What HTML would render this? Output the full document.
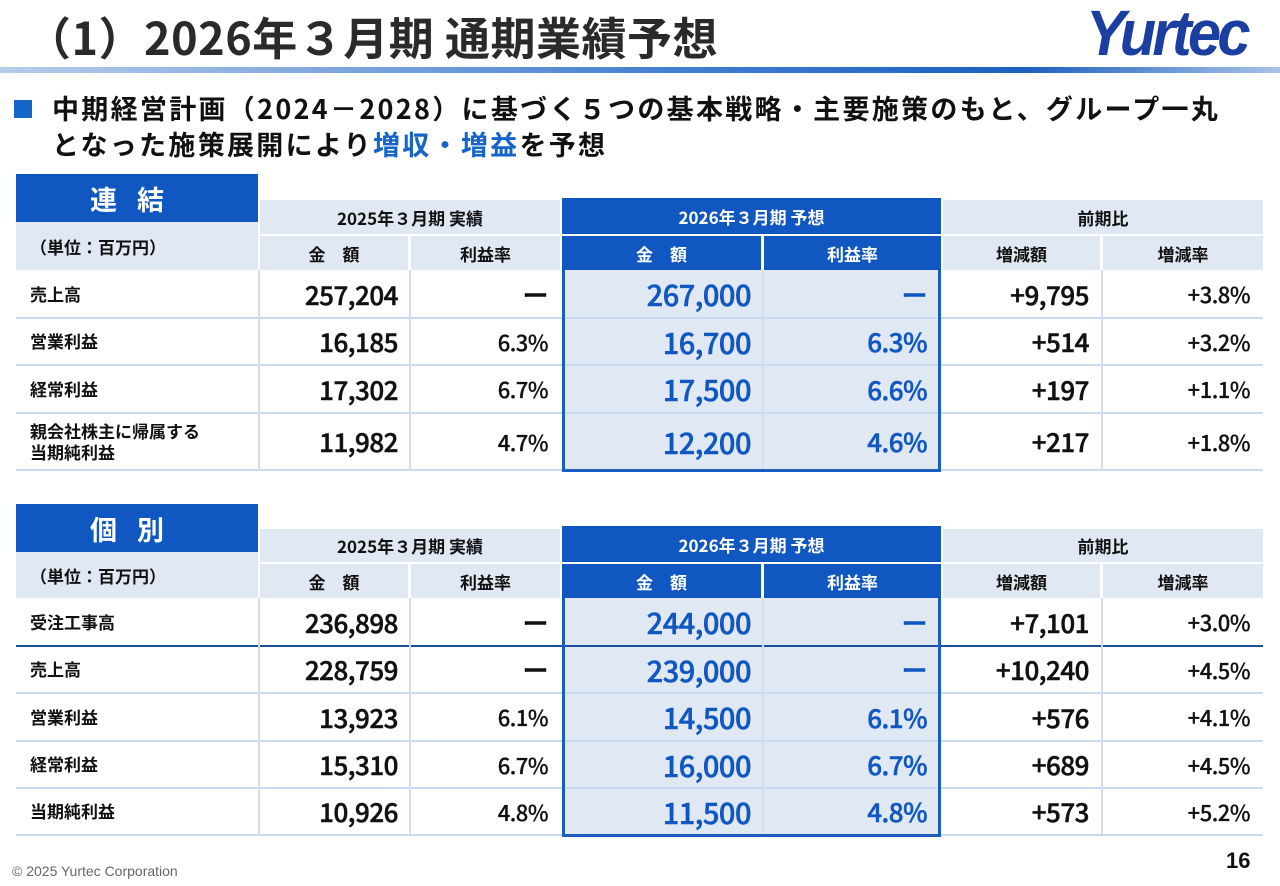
<!DOCTYPE html>
<html><head><meta charset="utf-8"><style>
*{margin:0;padding:0;box-sizing:border-box}
body{width:1280px;height:886px;background:#fff;position:relative;overflow:hidden;font-family:"Liberation Sans","Noto Sans CJK JP",sans-serif;color:#111}
.a{position:absolute}
.jp{font-family:"Noto Sans CJK JP","Liberation Sans",sans-serif}
.c{position:absolute;display:flex;align-items:center;justify-content:center;font-family:"Noto Sans CJK JP",sans-serif;font-weight:bold}
.hl{background:#dfe8f3;color:#111;font-size:17px}
.hb{background:#1157c2;color:#fff;font-size:17px}
.lab{position:absolute;font-family:"Noto Sans CJK JP",sans-serif;font-weight:bold;font-size:17px;display:flex;align-items:center;left:30px;line-height:1.2}
.n{position:absolute;display:flex;align-items:center;justify-content:flex-end;font-family:"Noto Sans CJK JP",sans-serif;font-weight:500;font-size:26px;letter-spacing:-0.5px;-webkit-text-stroke:0.5px currentColor}
.s{font-size:22px;-webkit-text-stroke:0.2px currentColor}
.b{color:#1157c2}
.hline{position:absolute;left:16px;width:1247px;height:2px;background:#c9d9ee}
.vline{position:absolute;width:2px;background:#d2def0}
.fc{position:absolute;left:562px;width:379px;background:#dfe8f3;border:3px solid #1a5dc0;border-top:none}
</style></head><body>
<div class="a jp" style="left:26px;top:3px;font-size:45px;font-weight:bold;color:#2a2a2a;white-space:nowrap;letter-spacing:0.5px">（1）2026年３月期 通期業績予想</div>
<div class="a" style="left:1086px;top:-4px;font-size:64px;font-weight:bold;font-style:italic;color:#1b3fa0;font-family:'Liberation Sans',sans-serif;letter-spacing:-4px;transform:scaleX(0.93);transform-origin:left">Yurtec</div>
<div class="a" style="left:0;top:67px;width:1280px;height:6px;background:linear-gradient(90deg,#b6cde9,#3f7bd0 55%,#1d5fc0 80%,#a8c3e6)"></div>
<div class="a" style="left:14px;top:100px;width:18px;height:18px;background:#1565c9"></div>
<div class="a jp" style="left:52px;top:90px;font-size:27px;font-weight:bold;line-height:36px;white-space:nowrap;letter-spacing:2.3px">中期経営計画（2024－2028）に基づく５つの基本戦略・主要施策のもと、グループ一丸<br>となった施策展開により<span style="color:#1565c9">増収・増益</span>を予想</div>

<!-- TABLE 1 -->
<div class="c hb" style="left:16px;top:174px;width:242px;height:48px;font-size:27px;letter-spacing:20px">連結</div>
<div class="c hl" style="left:16px;top:222px;width:242px;height:48px;justify-content:flex-start;padding-left:14px;font-weight:bold">（単位：百万円）</div>
<div class="c hl" style="left:260px;top:200px;width:300px;height:34px">2025年３月期 実績</div>
<div class="c hl" style="left:260px;top:236px;width:148px;height:34px">金　額</div>
<div class="c hl" style="left:411px;top:236px;width:149px;height:34px">利益率</div>
<div class="c hb" style="left:562px;top:198px;width:379px;height:36px">2026年３月期 予想</div>
<div class="c hb" style="left:562px;top:236px;width:199px;height:34px">金　額</div>
<div class="c hb" style="left:764px;top:236px;width:177px;height:34px">利益率</div>
<div class="c hl" style="left:943px;top:200px;width:320px;height:34px">前期比</div>
<div class="c hl" style="left:943px;top:236px;width:157px;height:34px">増減額</div>
<div class="c hl" style="left:1103px;top:236px;width:160px;height:34px">増減率</div>
<div class="fc" style="top:270px;height:202px"></div>
<div class="hline" style="top:317px"></div><div class="hline" style="top:364px"></div><div class="hline" style="top:412px"></div><div class="hline" style="top:469px"></div>
<div class="vline" style="left:258px;top:270px;height:200px"></div><div class="vline" style="left:409px;top:270px;height:200px"></div><div class="vline" style="left:762px;top:270px;height:200px"></div><div class="vline" style="left:1101px;top:270px;height:200px"></div>
<div class="fc" style="top:270px;height:202px;background:transparent"></div>

<div class="lab" style="top:270px;height:48px">売上高</div>
<div class="lab" style="top:318px;height:47px">営業利益</div>
<div class="lab" style="top:365px;height:48px">経常利益</div>
<div class="lab" style="top:413px;height:57px">親会社株主に帰属する<br>当期純利益</div>

<div class="n" style="left:260px;width:138px;top:270px;height:48px">257,204</div>
<div class="n" style="left:260px;width:138px;top:318px;height:47px">16,185</div>
<div class="n" style="left:260px;width:138px;top:365px;height:48px">17,302</div>
<div class="n" style="left:260px;width:138px;top:413px;height:57px">11,982</div>
<div class="n" style="left:411px;width:137px;top:270px;height:48px">ー</div>
<div class="n s" style="left:411px;width:137px;top:318px;height:47px">6.3%</div>
<div class="n s" style="left:411px;width:137px;top:365px;height:48px">6.7%</div>
<div class="n s" style="left:411px;width:137px;top:413px;height:57px">4.7%</div>
<div class="n b" style="left:562px;width:189px;top:270px;height:48px;font-size:29px">267,000</div>
<div class="n b" style="left:562px;width:189px;top:318px;height:47px;font-size:29px">16,700</div>
<div class="n b" style="left:562px;width:189px;top:365px;height:48px;font-size:29px">17,500</div>
<div class="n b" style="left:562px;width:189px;top:413px;height:57px;font-size:29px">12,200</div>
<div class="n b" style="left:764px;width:163px;top:270px;height:48px">ー</div>
<div class="n b" style="left:764px;width:163px;top:318px;height:47px">6.3%</div>
<div class="n b" style="left:764px;width:163px;top:365px;height:48px">6.6%</div>
<div class="n b" style="left:764px;width:163px;top:413px;height:57px">4.6%</div>
<div class="n" style="left:943px;width:146px;top:270px;height:48px">+9,795</div>
<div class="n" style="left:943px;width:146px;top:318px;height:47px">+514</div>
<div class="n" style="left:943px;width:146px;top:365px;height:48px">+197</div>
<div class="n" style="left:943px;width:146px;top:413px;height:57px">+217</div>
<div class="n s" style="left:1103px;width:147px;top:270px;height:48px">+3.8%</div>
<div class="n s" style="left:1103px;width:147px;top:318px;height:47px">+3.2%</div>
<div class="n s" style="left:1103px;width:147px;top:365px;height:48px">+1.1%</div>
<div class="n s" style="left:1103px;width:147px;top:413px;height:57px">+1.8%</div>

<!-- TABLE 2 -->
<div class="c hb" style="left:16px;top:504px;width:242px;height:48px;font-size:27px;letter-spacing:20px">個別</div>
<div class="c hl" style="left:16px;top:552px;width:242px;height:46px;justify-content:flex-start;padding-left:14px">（単位：百万円）</div>
<div class="c hl" style="left:260px;top:529px;width:300px;height:33px">2025年３月期 実績</div>
<div class="c hl" style="left:260px;top:564px;width:148px;height:34px">金　額</div>
<div class="c hl" style="left:411px;top:564px;width:149px;height:34px">利益率</div>
<div class="c hb" style="left:562px;top:526px;width:379px;height:36px">2026年３月期 予想</div>
<div class="c hb" style="left:562px;top:564px;width:199px;height:34px">金　額</div>
<div class="c hb" style="left:764px;top:564px;width:177px;height:34px">利益率</div>
<div class="c hl" style="left:943px;top:529px;width:320px;height:33px">前期比</div>
<div class="c hl" style="left:943px;top:564px;width:157px;height:34px">増減額</div>
<div class="c hl" style="left:1103px;top:564px;width:160px;height:34px">増減率</div>
<div class="fc" style="top:598px;height:239px"></div>
<div class="hline" style="top:645px;background:#1a4f9c"></div><div class="hline" style="top:692px"></div><div class="hline" style="top:740px"></div><div class="hline" style="top:787px"></div><div class="hline" style="top:834px"></div>
<div class="vline" style="left:258px;top:598px;height:237px"></div><div class="vline" style="left:409px;top:598px;height:237px"></div><div class="vline" style="left:762px;top:598px;height:237px"></div><div class="vline" style="left:1101px;top:598px;height:237px"></div>
<div class="fc" style="top:598px;height:239px;background:transparent"></div>

<div class="lab" style="top:598px;height:48px">受注工事高</div>
<div class="lab" style="top:646px;height:47px">売上高</div>
<div class="lab" style="top:693px;height:48px">営業利益</div>
<div class="lab" style="top:741px;height:47px">経常利益</div>
<div class="lab" style="top:788px;height:47px">当期純利益</div>

<div class="n" style="left:260px;width:138px;top:598px;height:48px">236,898</div>
<div class="n" style="left:260px;width:138px;top:646px;height:47px">228,759</div>
<div class="n" style="left:260px;width:138px;top:693px;height:48px">13,923</div>
<div class="n" style="left:260px;width:138px;top:741px;height:47px">15,310</div>
<div class="n" style="left:260px;width:138px;top:788px;height:47px">10,926</div>
<div class="n" style="left:411px;width:137px;top:598px;height:48px">ー</div>
<div class="n" style="left:411px;width:137px;top:646px;height:47px">ー</div>
<div class="n s" style="left:411px;width:137px;top:693px;height:48px">6.1%</div>
<div class="n s" style="left:411px;width:137px;top:741px;height:47px">6.7%</div>
<div class="n s" style="left:411px;width:137px;top:788px;height:47px">4.8%</div>
<div class="n b" style="left:562px;width:189px;top:598px;height:48px;font-size:29px">244,000</div>
<div class="n b" style="left:562px;width:189px;top:646px;height:47px;font-size:29px">239,000</div>
<div class="n b" style="left:562px;width:189px;top:693px;height:48px;font-size:29px">14,500</div>
<div class="n b" style="left:562px;width:189px;top:741px;height:47px;font-size:29px">16,000</div>
<div class="n b" style="left:562px;width:189px;top:788px;height:47px;font-size:29px">11,500</div>
<div class="n b" style="left:764px;width:163px;top:598px;height:48px">ー</div>
<div class="n b" style="left:764px;width:163px;top:646px;height:47px">ー</div>
<div class="n b" style="left:764px;width:163px;top:693px;height:48px">6.1%</div>
<div class="n b" style="left:764px;width:163px;top:741px;height:47px">6.7%</div>
<div class="n b" style="left:764px;width:163px;top:788px;height:47px">4.8%</div>
<div class="n" style="left:943px;width:146px;top:598px;height:48px">+7,101</div>
<div class="n" style="left:943px;width:146px;top:646px;height:47px">+10,240</div>
<div class="n" style="left:943px;width:146px;top:693px;height:48px">+576</div>
<div class="n" style="left:943px;width:146px;top:741px;height:47px">+689</div>
<div class="n" style="left:943px;width:146px;top:788px;height:47px">+573</div>
<div class="n s" style="left:1103px;width:147px;top:598px;height:48px">+3.0%</div>
<div class="n s" style="left:1103px;width:147px;top:646px;height:47px">+4.5%</div>
<div class="n s" style="left:1103px;width:147px;top:693px;height:48px">+4.1%</div>
<div class="n s" style="left:1103px;width:147px;top:741px;height:47px">+4.5%</div>
<div class="n s" style="left:1103px;width:147px;top:788px;height:47px">+5.2%</div>

<div class="a" style="left:12px;top:863px;font-size:14px;color:#666">© 2025 Yurtec Corporation</div>
<div class="a" style="left:1226px;top:848px;font-size:22px;font-weight:bold;color:#111">16</div>
</body></html>
